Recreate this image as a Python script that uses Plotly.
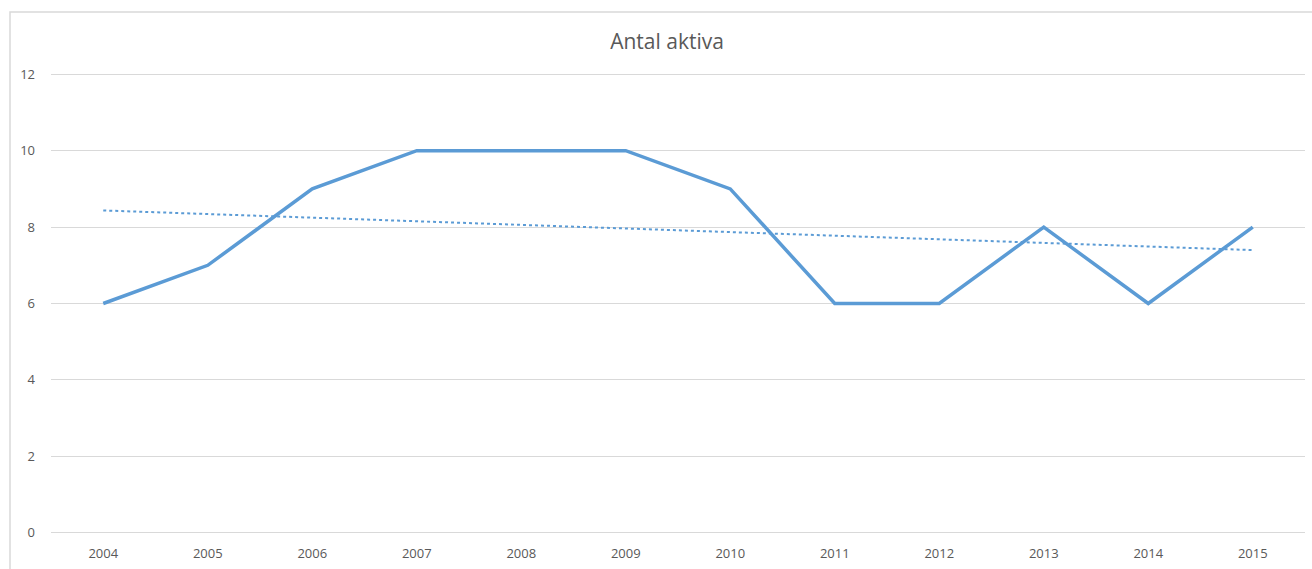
import numpy as np
import plotly.graph_objects as go

years = ["2004", "2005", "2006", "2007", "2008", "2009", "2010", "2011", "2012", "2013", "2014", "2015"]
values = [6, 7, 9, 10, 10, 10, 9, 6, 6, 8, 6, 8]
y_ticks = [0, 2, 4, 6, 8, 10, 12]
title = "Antal aktiva"

# linear trendline (least squares) from the data
idx = np.arange(len(values))
slope, intercept = np.polyfit(idx, values, 1)
trend = intercept + slope * idx

blue = "#5B9BD5"
grey_text = "#595959"
grid = "#D9D9D9"

fig = go.Figure()
fig.add_trace(go.Scatter(x=years, y=values, mode="lines",
                         line=dict(color=blue, width=3.5), showlegend=False))
fig.add_trace(go.Scatter(x=years, y=trend, mode="lines",
                         line=dict(color=blue, width=2, dash="dot"), showlegend=False))

L, R, T, B = 51, 7, 72, 34
W, H = 1312, 569
pw, ph = W - L - R, H - T - B

fig.update_layout(
    width=W, height=H,
    margin=dict(l=L, r=R, t=T, b=B),
    paper_bgcolor="white", plot_bgcolor="white",
    title=dict(text=title, x=(667 - L) / pw, xref="paper", xanchor="center",
               y=1 - 42 / H, yanchor="middle",
               font=dict(family="Open Sans", size=21, color=grey_text)),
    font=dict(family="Open Sans", size=13, color=grey_text),
    xaxis=dict(type="category", range=[-0.5, len(years) - 0.5],
               showgrid=False, showline=False, zeroline=False,
               ticks="", ticklabelstandoff=9,
               tickfont=dict(size=13, color=grey_text)),
    yaxis=dict(range=[-0.06, 12.06], tickvals=y_ticks, showgrid=True, gridcolor=grid,
               gridwidth=1, zeroline=False, showline=False, ticks="",
               ticklabelstandoff=15,
               tickfont=dict(size=13, color=grey_text)),
    shapes=[dict(type="rect", xref="paper", yref="paper",
                 x0=(10 - L) / pw, x1=(W + 20 - L) / pw,
                 y0=-(H + 20 - (H - B)) / ph, y1=(H - B - 12) / ph,
                 line=dict(color=grid, width=1.5), fillcolor="rgba(0,0,0,0)",
                 layer="below")],
)

fig.write_html("out.html", config={"displayModeBar": False},
               post_script="document.body.style.margin='0';document.body.style.overflow='hidden';")
